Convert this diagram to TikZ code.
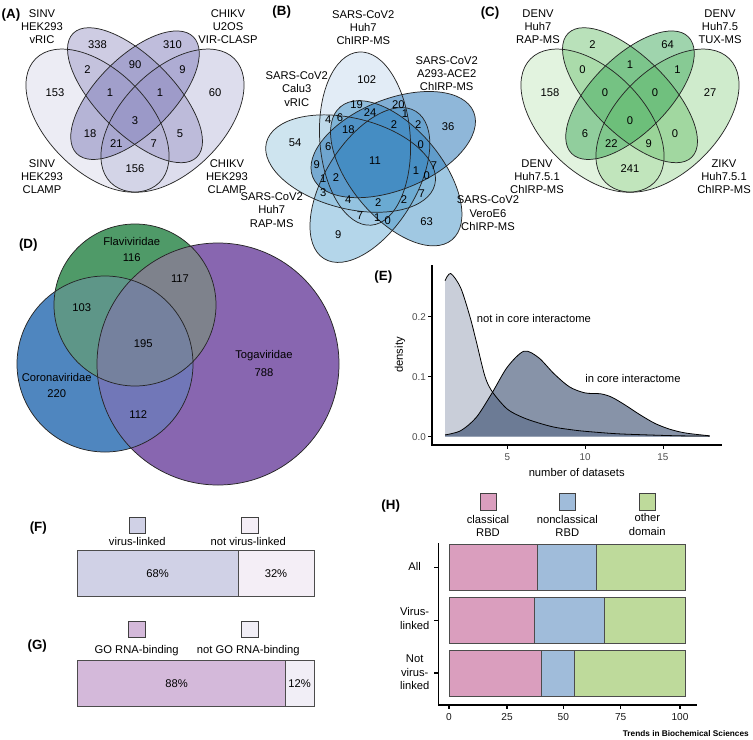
\documentclass[tikz,border=0pt]{standalone}
\usepackage{fontspec}
\setmainfont{Liberation Sans}
\definecolor{pA1}{HTML}{DADAEB}
\definecolor{pA2}{HTML}{BCBDDC}
\definecolor{pA3}{HTML}{9E9AC8}
\definecolor{pA4}{HTML}{807DBA}
\definecolor{gC1}{HTML}{C7E9C0}
\definecolor{gC2}{HTML}{A1D99B}
\definecolor{gC3}{HTML}{74C476}
\definecolor{gC4}{HTML}{41AB5D}
\definecolor{bB1}{HTML}{C6DBEF}
\definecolor{bB2}{HTML}{9ECAE1}
\definecolor{bB3}{HTML}{6BAED6}
\definecolor{bB4}{HTML}{4292C6}
\definecolor{bB5}{HTML}{2171B5}
\definecolor{dF}{HTML}{4F9A68}
\definecolor{dC}{HTML}{4F86BF}
\definecolor{dT}{HTML}{8866B0}
\definecolor{dFC}{HTML}{5E9688}
\definecolor{dFT}{HTML}{7E828C}
\definecolor{dCT}{HTML}{7177B8}
\definecolor{dFCT}{HTML}{75819E}
\definecolor{eLight}{HTML}{C9CED9}
\definecolor{eDark}{HTML}{102952}
\definecolor{fA}{HTML}{D0D1E6}
\definecolor{fB}{HTML}{F4EEF6}
\definecolor{gA}{HTML}{D4B9DA}
\definecolor{gB}{HTML}{F1EEF6}
\definecolor{hP}{HTML}{DA9EBE}
\definecolor{hB}{HTML}{A0BCDA}
\definecolor{hG}{HTML}{BEDA9B}
\definecolor{tickgray}{HTML}{4D4D4D}
\begin{document}
\begin{tikzpicture}[x=0.75pt,y=-0.75pt,
  txt/.style={font=\fontsize{8.4}{10}\selectfont, inner sep=0pt, align=center},
  ticklab/.style={font=\fontsize{7.4}{9}\selectfont, inner sep=0pt, text=tickgray},
  htick/.style={font=\fontsize{7.6}{9}\selectfont, inner sep=0pt, text=black!90},
  panel/.style={font=\fontsize{10}{12}\selectfont\bfseries, inner sep=0pt},
  vline/.style={line width=0.55pt, draw=black!85},
  axisline/.style={line width=0.9pt, draw=black},
  barbox/.style={line width=0.6pt, draw=black!70},
  legbox/.style={line width=0.6pt, draw=black!75}]
\useasboundingbox (0,0) rectangle (753,739);
\fill[white] (0,0) rectangle (753,739);

% ---------------- (A) ----------------
\node[panel] (pA) at (11,15) {(A)};
\begin{scope}[shift={(10,240)},x=187.5pt,y=190.5pt]
  \foreach \cx/\cy/\ra/\rb/\ang/\col in {0.35/0.47/0.35/0.2/135/pA1, 0.65/0.47/0.35/0.2/45/pA2, 0.5/0.57/0.35/0.15/135/pA3, 0.5/0.57/0.33/0.15/45/pA4}
    \fill[\col, fill opacity=0.5, rotate around={\ang:(\cx,\cy)}] (\cx,\cy) ellipse [x radius=\ra, y radius=\rb];
  \foreach \cx/\cy/\ra/\rb/\ang in {0.35/0.47/0.35/0.2/135, 0.65/0.47/0.35/0.2/45, 0.5/0.57/0.35/0.15/135, 0.5/0.57/0.33/0.15/45}
    \draw[vline, rotate around={\ang:(\cx,\cy)}] (\cx,\cy) ellipse [x radius=\ra, y radius=\rb];
  \node[txt] (a1) at (0.35,0.77) {338};
  \node[txt] (a2) at (0.5,0.69) {90};
  \node[txt] (a3) at (0.65,0.77) {310};
  \node[txt] (a4) at (0.31,0.67) {2};
  \node[txt] (a5) at (0.4,0.58) {1};
  \node[txt] (a6) at (0.5,0.47) {3};
  \node[txt] (a7) at (0.6,0.58) {1};
  \node[txt] (a8) at (0.69,0.67) {9};
  \node[txt] (a9) at (0.18,0.58) {153};
  \node[txt] (a10) at (0.32,0.42) {18};
  \node[txt] (a11) at (0.425,0.38) {21};
  \node[txt] (a12) at (0.575,0.38) {7};
  \node[txt] (a13) at (0.68,0.42) {5};
  \node[txt] (a14) at (0.82,0.58) {60};
  \node[txt] (a15) at (0.5,0.28) {156};
\end{scope}
\node[txt] (aL1) at (42,26.7) {SINV\\HEK293\\vRIC};
\node[txt] (aL2) at (228,26.7) {CHIKV\\U2OS\\VIR-CLASP};
\node[txt] (aL3) at (42,176.7) {SINV\\HEK293\\CLAMP};
\node[txt] (aL4) at (227,176.7) {CHIKV\\HEK293\\CLAMP};

% ---------------- (C) ----------------
\node[panel] (pC) at (490,13.3) {(C)};
\begin{scope}[shift={(505,240)},x=187.5pt,y=190.5pt]
  \foreach \cx/\cy/\ra/\rb/\ang/\col in {0.35/0.47/0.35/0.2/135/gC1, 0.65/0.47/0.35/0.2/45/gC2, 0.5/0.57/0.35/0.15/135/gC3, 0.5/0.57/0.33/0.15/45/gC4}
    \fill[\col, fill opacity=0.5, rotate around={\ang:(\cx,\cy)}] (\cx,\cy) ellipse [x radius=\ra, y radius=\rb];
  \foreach \cx/\cy/\ra/\rb/\ang in {0.35/0.47/0.35/0.2/135, 0.65/0.47/0.35/0.2/45, 0.5/0.57/0.35/0.15/135, 0.5/0.57/0.33/0.15/45}
    \draw[vline, rotate around={\ang:(\cx,\cy)}] (\cx,\cy) ellipse [x radius=\ra, y radius=\rb];
  \node[txt] (c1) at (0.35,0.77) {2};
  \node[txt] (c2) at (0.5,0.69) {1};
  \node[txt] (c3) at (0.65,0.77) {64};
  \node[txt] (c4) at (0.31,0.67) {0};
  \node[txt] (c5) at (0.4,0.58) {0};
  \node[txt] (c6) at (0.5,0.47) {0};
  \node[txt] (c7) at (0.6,0.58) {0};
  \node[txt] (c8) at (0.69,0.67) {1};
  \node[txt] (c9) at (0.18,0.58) {158};
  \node[txt] (c10) at (0.32,0.42) {6};
  \node[txt] (c11) at (0.425,0.38) {22};
  \node[txt] (c12) at (0.575,0.38) {9};
  \node[txt] (c13) at (0.68,0.42) {0};
  \node[txt] (c14) at (0.82,0.58) {27};
  \node[txt] (c15) at (0.5,0.28) {241};
\end{scope}
\node[txt] (cL1) at (538,26.7) {DENV\\Huh7\\RAP-MS};
\node[txt] (cL2) at (720,26.7) {DENV\\Huh7.5\\TUX-MS};
\node[txt] (cL3) at (537,176.7) {DENV\\Huh7.5.1\\ChIRP-MS};
\node[txt] (cL4) at (724,176.7) {ZIKV\\Huh7.5.1\\ChIRP-MS};

% ---------------- (B) ----------------
\node[panel] (pB) at (281.7,11.7) {(B)};
\begin{scope}[shift={(375,161)},x=141.5pt,y=141.5pt]
  \foreach \t/\col in {94/bB1, 166/bB2, -122/bB3, -50/bB4, 22/bB5}{
    \begin{scope}[rotate=\t+20]
      \fill[\col, fill opacity=0.5, rotate around={-20:(0.13,0)}] (0.13,0) ellipse [x radius=0.46, y radius=0.24];
    \end{scope}}
  \foreach \t in {94, 22, -50, -122, 166}{
    \begin{scope}[rotate=\t+20]
      \draw[vline, rotate around={-20:(0.13,0)}] (0.13,0) ellipse [x radius=0.46, y radius=0.24];
    \end{scope}}
\end{scope}
\node[txt] (bL1) at (363.3,27.5) {SARS-CoV2\\Huh7\\ChIRP-MS};
\node[txt] (bL2) at (446.7,73.7) {SARS-CoV2\\A293-ACE2\\ChIRP-MS};
\node[txt] (bL3) at (296.7,89) {SARS-CoV2\\Calu3\\vRIC};
\node[txt] (bL4) at (271.7,210) {SARS-CoV2\\Huh7\\RAP-MS};
\node[txt] (bL5) at (488,213.3) {SARS-CoV2\\VeroE6\\ChIRP-MS};
\node[txt] (b1) at (366.7,80) {102};
\node[txt] (b2) at (448,127) {36};
\node[txt] (b3) at (426.7,221.7) {63};
\node[txt] (b4) at (338.3,235) {9};
\node[txt] (b5) at (295,142.3) {54};
\node[txt] (b6) at (356.7,105) {19};
\node[txt] (b7) at (398.3,104.3) {20};
\node[txt] (b8) at (370,112.3) {24};
\node[txt] (b9) at (405,113.3) {1};
\node[txt] (b10) at (328.3,120) {4};
\node[txt] (b11) at (340,117.7) {6};
\node[txt] (b12) at (348.3,130) {18};
\node[txt] (b13) at (394,124.3) {2};
\node[txt] (b14) at (418.3,125) {2};
\node[txt] (b15) at (328.3,146.7) {6};
\node[txt] (b16) at (420.7,145) {0};
\node[txt] (b17) at (375,161) {11};
\node[txt] (b18) at (316.7,165) {9};
\node[txt] (b19) at (434,165.7) {7};
\node[txt] (b20) at (323.3,178.3) {1};
\node[txt] (b21) at (336,177.7) {2};
\node[txt] (b22) at (416,171) {1};
\node[txt] (b23) at (426.7,175.7) {0};
\node[txt] (b24) at (323.3,192.3) {3};
\node[txt] (b25) at (421.7,193.7) {7};
\node[txt] (b26) at (348.3,200) {4};
\node[txt] (b27) at (378.3,202.3) {2};
\node[txt] (b28) at (404,200) {2};
\node[txt] (b29) at (360,215.7) {7};
\node[txt] (b30) at (377.3,217.7) {1};
\node[txt] (b31) at (387.7,221) {0};

% ---------------- (D) ----------------
\node[panel] (pD) at (28.3,245) {(D)};
\coordinate (cF) at (135,305);
\coordinate (cCo) at (105,364);
\coordinate (cT) at (218,364);
\fill[dF] (cF) circle [radius=81];
\fill[dC] (cCo) circle [radius=88];
\fill[dT] (cT) circle [radius=121];
\begin{scope}\clip (cF) circle [radius=81]; \fill[dFC] (cCo) circle [radius=88];\end{scope}
\begin{scope}\clip (cF) circle [radius=81]; \fill[dFT] (cT) circle [radius=121];\end{scope}
\begin{scope}\clip (cCo) circle [radius=88]; \fill[dCT] (cT) circle [radius=121];\end{scope}
\begin{scope}\clip (cF) circle [radius=81]; \clip (cCo) circle [radius=88]; \fill[dFCT] (cT) circle [radius=121];\end{scope}
\draw[vline] (cF) circle [radius=81];
\draw[vline] (cCo) circle [radius=88];
\draw[vline] (cT) circle [radius=121];
\node[txt] (d1) at (131.7,241.7) {Flaviviridae};
\node[txt] (d2) at (131.7,257.3) {116};
\node[txt] (d3) at (180,278.3) {117};
\node[txt] (d4) at (81.7,307.7) {103};
\node[txt] (d5) at (143.3,343.5) {195};
\node[txt] (d6) at (264,356) {Togaviridae};
\node[txt] (d7) at (264,372.7) {788};
\node[txt] (d8) at (56.7,377.7) {Coronaviridae};
\node[txt] (d9) at (56.7,393.3) {220};
\node[txt] (d10) at (138.3,415) {112};

% ---------------- (E) ----------------
\node[panel] (pE) at (383.3,276.7) {(E)};
\fill[eLight] (445.06,436.7) -- plot[smooth] coordinates {(445.06,280.7) (450.66,273.5) (460.62,287.7) (469.96,316.7) (476.18,341) (485.05,376.7) (492.67,392.3) (507.3,409.1) (522.86,417.5) (538.42,422.9) (553.98,427.1) (569.54,429.5) (585.1,431.3) (616.2,433.7) (647.3,434.9) (678.5,435.8) (709.6,436.1)} -- (709.6,436.7) -- cycle;
\fill[eDark, fill opacity=0.5] (445.06,436.7) -- plot[smooth] coordinates {(445.06,434.9) (460.62,430.7) (476.18,417.5) (491.74,393.5) (507.3,367.1) (523.95,351.2) (538.42,357.5) (553.98,373.7) (569.54,386.9) (585.1,392.9) (600.66,393.8) (611.55,397.1) (624,404.3) (639.6,414.5) (655.1,423.5) (670.7,429.5) (686.2,433.1) (709.6,435.8)} -- (709.6,436.7) -- cycle;
\draw[line width=0.6pt] plot[smooth] coordinates {(445.06,280.7) (450.66,273.5) (460.62,287.7) (469.96,316.7) (476.18,341) (485.05,376.7) (492.67,392.3) (507.3,409.1) (522.86,417.5) (538.42,422.9) (553.98,427.1) (569.54,429.5) (585.1,431.3) (616.2,433.7) (647.3,434.9) (678.5,435.8) (709.6,436.1)};
\draw[line width=0.6pt] plot[smooth] coordinates {(445.06,434.9) (460.62,430.7) (476.18,417.5) (491.74,393.5) (507.3,367.1) (523.95,351.2) (538.42,357.5) (553.98,373.7) (569.54,386.9) (585.1,392.9) (600.66,393.8) (611.55,397.1) (624,404.3) (639.6,414.5) (655.1,423.5) (670.7,429.5) (686.2,433.1) (709.6,435.8)};
\draw[axisline] (432,265) -- (432,445) -- (722,445);
\foreach \yy in {436.7,376.7,316.7} \draw[line width=0.6pt] (428,\yy) -- (432,\yy);
\foreach \xx in {507.3,585.1,662.9} \draw[line width=0.6pt] (\xx,445) -- (\xx,449);
\node[ticklab, anchor=east] (e00) at (426,436.7) {0.0};
\node[ticklab, anchor=east] (e01) at (426,376.7) {0.1};
\node[ticklab, anchor=east] (e02) at (426,316.7) {0.2};
\node[ticklab] (e5) at (507.3,456.7) {5};
\node[ticklab] (e10) at (585.1,456.7) {10};
\node[ticklab] (e15) at (662.9,456.7) {15};
\node[txt] (exl) at (576.7,472.3) {number of datasets};
\node[txt, rotate=90] (eyl) at (400,355) {density};
\node[txt, anchor=west] (enot) at (476.7,318.3) {not in core interactome};
\node[txt, anchor=west] (ein) at (585,378.3) {in core interactome};

% ---------------- (F) ----------------
\node[panel] (pF) at (38.3,528.3) {(F)};
\filldraw[fill=fA, legbox] (129.3,517.3) rectangle (145.7,533.7);
\filldraw[fill=fB, legbox] (241.3,517.3) rectangle (258,533.7);
\node[txt] (fl1) at (137.3,541) {virus-linked};
\node[txt] (fl2) at (248.3,541) {not virus-linked};
\filldraw[fill=fA, barbox] (77.3,550.7) rectangle (238.3,596.3);
\filldraw[fill=fB, barbox] (238.3,550.7) rectangle (314,596.3);
\node[txt] (f68) at (157.7,573.7) {68\%};
\node[txt] (f32) at (276,573.7) {32\%};

% ---------------- (G) ----------------
\node[panel] (pG) at (37.3,645.7) {(G)};
\filldraw[fill=gA, legbox] (128.3,621.7) rectangle (145,637.3);
\filldraw[fill=gB, legbox] (241.3,621.7) rectangle (258,637.3);
\node[txt] (gl1) at (136.7,650.7) {GO RNA-binding};
\node[txt] (gl2) at (248.3,650.7) {not GO RNA-binding};
\filldraw[fill=gA, barbox] (77.3,660.7) rectangle (285.7,706.7);
\filldraw[fill=gB, barbox] (285.7,660.7) rectangle (314,706.7);
\node[txt] (g88) at (176.7,684) {88\%};
\node[txt] (g12) at (299.5,684) {12\%};

% ---------------- (H) ----------------
\node[panel] (pH) at (390.7,505.7) {(H)};
\filldraw[fill=hP, legbox] (480,493.3) rectangle (496,510);
\filldraw[fill=hB, legbox] (559.3,493.3) rectangle (575.3,510);
\filldraw[fill=hG, legbox] (639.3,493.3) rectangle (655.3,510);
\node[txt] (hl1) at (488,525.7) {classical\\RBD};
\node[txt] (hl2) at (567.3,525.7) {nonclassical\\RBD};
\node[txt] (hl3) at (647.3,524.5) {other\\domain};
\filldraw[fill=hP, barbox] (449,544) rectangle (537.7,590.7);
\filldraw[fill=hB, barbox] (537.7,544) rectangle (596.7,590.7);
\filldraw[fill=hG, barbox] (596.7,544) rectangle (685.7,590.7);
\filldraw[fill=hP, barbox] (449,597.7) rectangle (534.3,643.3);
\filldraw[fill=hB, barbox] (534.3,597.7) rectangle (604.3,643.3);
\filldraw[fill=hG, barbox] (604.3,597.7) rectangle (685.7,643.3);
\filldraw[fill=hP, barbox] (449,650) rectangle (541.7,696);
\filldraw[fill=hB, barbox] (541.7,650) rectangle (574,696);
\filldraw[fill=hG, barbox] (574,650) rectangle (685.7,696);
\draw[axisline] (438.3,543) -- (438.3,705) -- (697,705);
\foreach \yy in {567.3,620.5,673} \draw[line width=0.8pt] (434,\yy) -- (438.3,\yy);
\foreach \xx in {449,507,563.3,620.7,680} \draw[line width=0.8pt] (\xx,705) -- (\xx,709);
\node[txt] (hy1) at (414.7,566) {All};
\node[txt] (hy2) at (414.7,618.4) {Virus-\\linked};
\node[txt] (hy3) at (414.7,672.3) {Not\\virus-\\linked};
\node[htick] (hx0) at (449,716.7) {0};
\node[htick] (hx25) at (507,716.7) {25};
\node[htick] (hx50) at (563.3,716.7) {50};
\node[htick] (hx75) at (620.7,716.7) {75};
\node[htick] (hx100) at (680,716.7) {100};
\node[font=\fontsize{6.2}{7}\selectfont\bfseries, inner sep=0pt] (tbs) at (685.8,733.3) {Trends in Biochemical Sciences};
\end{tikzpicture}
\end{document}
